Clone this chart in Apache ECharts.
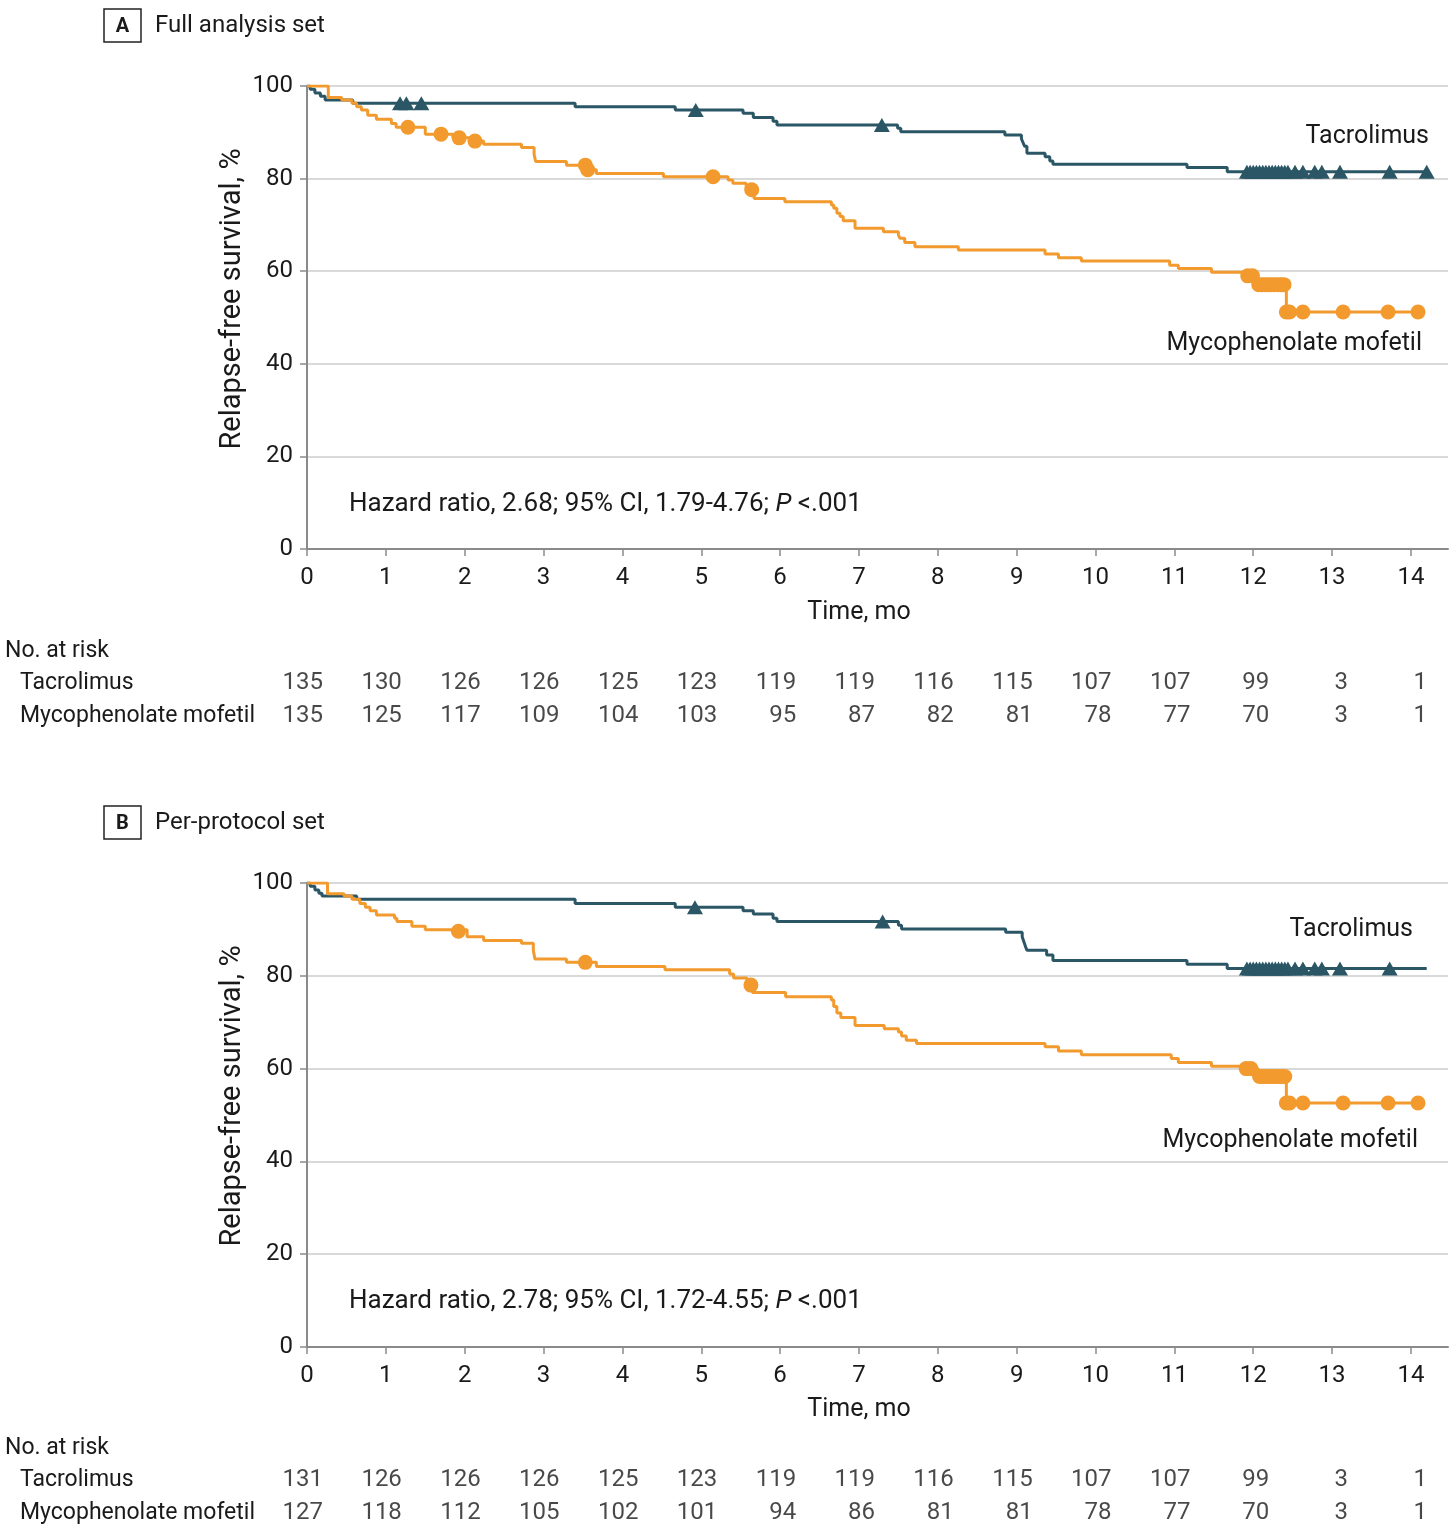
<!DOCTYPE html>
<html>
<head>
    <meta charset="utf-8">
    <title>Relapse-free survival</title>
    <script src="https://cdn.jsdelivr.net/npm/echarts@6/dist/echarts.min.js"></script>
</head>
<style>
    html, body {
        margin: 0;
        padding: 0;
        background: #fff;
    }

    #chart {
        width: 1455px;
        height: 1531px;
    }
</style>
<body>
<div id="chart"></div>
<script>
    // ---- data ----
    var monthTicks = [0, 1, 2, 3, 4, 5, 6, 7, 8, 9, 10, 11, 12, 13, 14];

    // panel A - full analysis set, KM steps [month, %]
    var tacStepsA = [[0, 100], [0.04, 99.3], [0.10, 98.5], [0.17, 97.8], [0.23, 97.0], [0.58, 96.3], [3.40, 95.5],
        [4.67, 94.8], [5.53, 94.1], [5.66, 93.2], [5.91, 92.4], [5.96, 91.6], [7.49, 90.9], [7.53, 90.1], [8.85, 89.4],
        [9.06, 88.6], [9.08, 87.8], [9.10, 87.0], [9.13, 85.5], [9.36, 84.7], [9.42, 83.8], [9.46, 83.1], [11.16, 82.4],
        [11.67, 81.5], [14.2, 81.5]];
    var tacCensorA = [[1.18, 96.3], [1.26, 96.3], [1.45, 96.3], [4.93, 94.8], [7.29, 91.6], [11.92, 81.5], [11.96, 81.5],
        [12.0, 81.5], [12.04, 81.5], [12.08, 81.5], [12.12, 81.5], [12.16, 81.5], [12.2, 81.5], [12.24, 81.5], [12.28, 81.5],
        [12.32, 81.5], [12.36, 81.5], [12.4, 81.5], [12.44, 81.5], [12.53, 81.5], [12.63, 81.5], [12.78, 81.5],
        [12.87, 81.5], [13.1, 81.5], [13.73, 81.5], [14.2, 81.5]];
    var mmfStepsA = [[0, 100], [0.27, 97.5], [0.44, 97.0], [0.57, 96.3], [0.63, 95.5], [0.69, 94.8], [0.77, 93.7],
        [0.88, 92.8], [1.07, 91.9], [1.13, 91.1], [1.50, 89.6], [1.85, 88.8], [2.10, 88.1], [2.24, 87.4], [2.72, 86.7],
        [2.88, 85.2], [2.90, 83.7], [3.29, 82.9], [3.55, 81.9], [3.67, 81.1], [4.52, 80.4], [5.34, 79.7], [5.40, 79.0],
        [5.57, 77.6], [5.67, 75.7], [6.06, 75.0], [6.65, 74.3], [6.68, 73.6], [6.72, 72.5], [6.76, 71.8], [6.80, 70.9],
        [6.95, 69.3], [7.31, 68.5], [7.50, 67.8], [7.52, 67.1], [7.58, 66.2], [7.71, 65.3], [8.26, 64.6], [9.36, 63.7],
        [9.53, 62.9], [9.82, 62.2], [10.94, 61.3], [11.05, 60.6], [11.47, 59.8], [11.90, 59.0], [12.05, 57.1],
        [12.42, 51.2], [14.09, 51.2]];
    var mmfCensorA = [[1.28, 91.1], [1.70, 89.6], [1.93, 88.8], [2.13, 88.1], [3.53, 82.9], [3.56, 81.9], [5.15, 80.4],
        [5.64, 77.6], [11.93, 59.0], [11.99, 59.0], [12.07, 57.1], [12.11, 57.1], [12.15, 57.1], [12.19, 57.1],
        [12.23, 57.1], [12.27, 57.1], [12.31, 57.1], [12.35, 57.1], [12.39, 57.1], [12.42, 51.2], [12.46, 51.2],
        [12.63, 51.2], [13.14, 51.2], [13.71, 51.2], [14.09, 51.2]];
    var tacRiskA = [135, 130, 126, 126, 125, 123, 119, 119, 116, 115, 107, 107, 99, 3, 1];
    var mmfRiskA = [135, 125, 117, 109, 104, 103, 95, 87, 82, 81, 78, 77, 70, 3, 1];

    // panel B - per-protocol set
    var tacStepsB = [[0, 100], [0.04, 99.3], [0.10, 98.5], [0.15, 97.8], [0.19, 97.2], [0.63, 96.5], [3.40, 95.6],
        [4.67, 94.8], [5.53, 94.0], [5.66, 93.3], [5.91, 92.4], [5.96, 91.7], [7.50, 90.9], [7.54, 90.1], [8.86, 89.4],
        [9.07, 88.4], [9.09, 87.4], [9.11, 86.4], [9.13, 85.5], [9.38, 84.5], [9.46, 83.3], [11.16, 82.5],
        [11.67, 81.6], [14.2, 81.6]];
    var tacCensorB = [[4.92, 94.8], [7.30, 91.7], [11.92, 81.6], [11.96, 81.6], [12.0, 81.6], [12.04, 81.6],
        [12.08, 81.6], [12.12, 81.6], [12.16, 81.6], [12.2, 81.6], [12.24, 81.6], [12.28, 81.6], [12.32, 81.6],
        [12.36, 81.6], [12.4, 81.6], [12.44, 81.6], [12.53, 81.6], [12.63, 81.6], [12.78, 81.6], [12.87, 81.6],
        [13.1, 81.6], [13.73, 81.6]];
    var mmfStepsB = [[0, 100], [0.26, 97.7], [0.47, 97.2], [0.57, 96.5], [0.67, 95.6], [0.74, 94.8], [0.80, 94.0],
        [0.88, 93.1], [1.11, 92.4], [1.14, 91.7], [1.33, 90.7], [1.50, 89.9], [2.03, 88.4], [2.24, 87.6], [2.72, 87.0],
        [2.87, 85.5], [2.89, 83.6], [3.29, 82.9], [3.67, 82.0], [4.54, 81.3], [5.36, 80.4], [5.41, 79.5], [5.58, 78.0],
        [5.65, 76.4], [6.07, 75.5], [6.65, 74.8], [6.68, 73.4], [6.72, 72.0], [6.77, 71.0], [6.95, 69.3], [7.32, 68.6],
        [7.50, 67.9], [7.54, 67.0], [7.60, 66.1], [7.73, 65.4], [9.36, 64.7], [9.53, 63.8], [9.82, 63.0],
        [10.96, 62.2], [11.05, 61.3], [11.47, 60.5], [11.89, 60.0], [12.06, 58.3], [12.42, 52.6], [14.09, 52.6]];
    var mmfCensorB = [[1.92, 89.6], [3.53, 82.9], [5.63, 78.0], [11.91, 60.0], [11.97, 60.0], [12.08, 58.3],
        [12.12, 58.3], [12.16, 58.3], [12.2, 58.3], [12.24, 58.3], [12.28, 58.3], [12.32, 58.3], [12.36, 58.3],
        [12.40, 58.3], [12.42, 52.6], [12.46, 52.6], [12.63, 52.6], [13.14, 52.6], [13.71, 52.6], [14.09, 52.6]];
    var tacRiskB = [131, 126, 126, 126, 125, 123, 119, 119, 116, 115, 107, 107, 99, 3, 1];
    var mmfRiskB = [127, 118, 112, 105, 102, 101, 94, 86, 81, 81, 78, 77, 70, 3, 1];

    var riskRows = ['Tacrolimus', 'Mycophenolate mofetil'];

    // ---- styling ----
    var FONT = 'Roboto, "Liberation Sans", sans-serif';
    var TXT = '#1a1a1a';
    var TEAL = '#2b5666';
    var ORANGE = '#f29a2e';
    var AXIS = '#8a8a8a';

    var chart = echarts.init(document.getElementById('chart'), null, {renderer: 'canvas'});

    function plotX(idx) {
        return {
            gridIndex: idx, type: 'value', min: 0, max: 14.47,
            axisLine: {show: true, lineStyle: {color: AXIS, width: 2}},
            axisTick: {show: true, length: 7, customValues: monthTicks, lineStyle: {color: AXIS, width: 1.5}},
            axisLabel: {customValues: monthTicks, margin: 17, fontFamily: FONT, fontSize: 24, color: TXT},
            splitLine: {show: false}
        };
    }

    function plotY(idx) {
        return {
            gridIndex: idx, type: 'value', min: 0, max: 100, interval: 20,
            axisLine: {show: true, lineStyle: {color: AXIS, width: 2}},
            axisTick: {show: true, length: 7, lineStyle: {color: AXIS, width: 1.5}},
            axisLabel: {margin: 14, fontFamily: FONT, fontSize: 24, color: TXT},
            splitLine: {show: true, lineStyle: {color: '#d9d9d9', width: 2}}
        };
    }

    function riskX(idx) {
        return {gridIndex: idx, type: 'value', min: 0, max: 14.47, show: false};
    }

    function riskY(idx) {
        return {gridIndex: idx, type: 'category', data: riskRows, inverse: true, show: false};
    }

    function stepLine(name, data, color, xi) {
        return {
            name: name, type: 'line', xAxisIndex: xi, yAxisIndex: xi, data: data, step: 'end',
            showSymbol: false, symbol: 'none', lineStyle: {color: color, width: 3}, z: 3
        };
    }

    function censor(data, color, shape, size, xi) {
        return {
            type: 'scatter', xAxisIndex: xi, yAxisIndex: xi, data: data, symbol: shape, symbolSize: size,
            itemStyle: {color: color, opacity: 1}, z: 4
        };
    }

    function riskRow(values, row, xi) {
        var pts = [];
        for (var i = 0; i < values.length; i++) {
            pts.push([monthTicks[i], row, values[i]]);
        }
        return {
            type: 'scatter', xAxisIndex: xi, yAxisIndex: xi, data: pts, symbolSize: 1,
            itemStyle: {color: 'rgba(0,0,0,0)'},
            label: {
                show: true, position: 'inside', align: 'right', verticalAlign: 'middle', offset: [16, 1],
                fontFamily: FONT, fontSize: 24, color: TXT,
                formatter: function (p) { return String(p.value[2]); }
            }
        };
    }

    function txt(x, y, s, align, extra) {
        var style = {x: x, y: y, text: s, fontFamily: FONT, fontSize: 24, fill: TXT,
            align: align || 'left', verticalAlign: 'middle'};
        if (extra) {
            for (var k in extra) style[k] = extra[k];
        }
        return {type: 'text', style: style, z: 10};
    }

    // panel specific vertical offset (B is drawn 797px under A)
    function panelGraphics(dy, letter, title, hazard, tacLbl, mmfLbl) {
        var yName = txt(0, 0, 'Relapse-free survival, %', 'center', {fontSize: 29});
        yName.x = 233;
        yName.y = 299 + dy;
        yName.rotation = Math.PI / 2;
        return [
            {type: 'rect', shape: {x: 104, y: 9 + dy, width: 37, height: 33},
                style: {fill: '#fff', stroke: '#222', lineWidth: 1.5}},
            txt(122.5, 27 + dy, letter, 'center', {fontWeight: 'bold', fontSize: 20}),
            txt(155, 26 + dy, title),
            yName,
            txt(859, 613 + dy, 'Time, mo', 'center', {fontSize: 25}),
            txt(349, 504 + dy, hazard, 'left', {fontSize: 26,
                rich: {i: {fontStyle: 'italic', fontFamily: FONT, fontSize: 26, fill: TXT}}}),
            txt(tacLbl[0], tacLbl[1] + dy, 'Tacrolimus', 'right', {fontSize: 25}),
            txt(mmfLbl[0], mmfLbl[1] + dy, 'Mycophenolate mofetil', 'right', {fontSize: 25}),
            txt(5, 651 + dy, 'No. at risk', 'left', {fontSize: 23}),
            txt(20, 683 + dy, 'Tacrolimus', 'left', {fontSize: 23}),
            txt(20, 716 + dy, 'Mycophenolate mofetil', 'left', {fontSize: 23})
        ];
    }

    var option = {
        animation: false,
        backgroundColor: '#ffffff',
        grid: [
            {left: 307, top: 86, width: 1141, height: 463},
            {left: 307, top: 665.5, width: 1141, height: 66},
            {left: 307, top: 883, width: 1141, height: 464},
            {left: 307, top: 1462.5, width: 1141, height: 66}
        ],
        xAxis: [plotX(0), riskX(1), plotX(2), riskX(3)],
        yAxis: [plotY(0), riskY(1), plotY(2), riskY(3)],
        series: [
            stepLine('Tacrolimus', tacStepsA, TEAL, 0),
            stepLine('Mycophenolate mofetil', mmfStepsA, ORANGE, 0),
            censor(tacCensorA, TEAL, 'triangle', [16, 14], 0),
            censor(mmfCensorA, ORANGE, 'circle', 15, 0),
            riskRow(tacRiskA, 0, 1),
            riskRow(mmfRiskA, 1, 1),
            stepLine('Tacrolimus', tacStepsB, TEAL, 2),
            stepLine('Mycophenolate mofetil', mmfStepsB, ORANGE, 2),
            censor(tacCensorB, TEAL, 'triangle', [16, 14], 2),
            censor(mmfCensorB, ORANGE, 'circle', 15, 2),
            riskRow(tacRiskB, 0, 3),
            riskRow(mmfRiskB, 1, 3)
        ],
        graphic: panelGraphics(0, 'A', 'Full analysis set',
            'Hazard ratio, 2.68; 95% CI, 1.79-4.76; {i|P} <.001', [1429, 137], [1422, 344])
            .concat(panelGraphics(797, 'B', 'Per-protocol set',
                'Hazard ratio, 2.78; 95% CI, 1.72-4.55; {i|P} <.001', [1413, 133], [1418, 344]))
    };

    chart.setOption(option);
</script>
</body>
</html>
